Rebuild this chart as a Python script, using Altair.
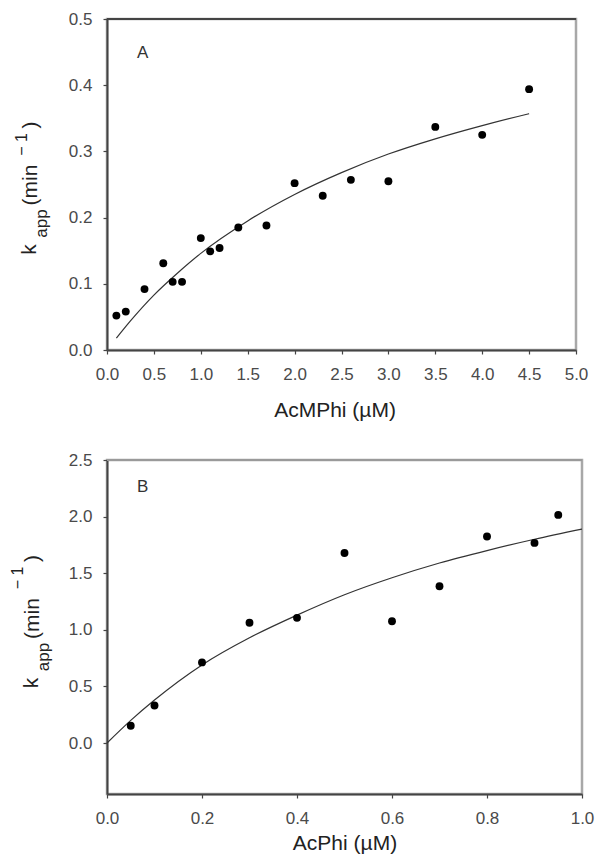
import altair as alt
import pandas as pd

# ---- Panel A data (AcMPhi) ----
a_x = [0.1, 0.2, 0.4, 0.6, 0.7, 0.8, 1.0, 1.1, 1.2, 1.4, 1.7, 2.0, 2.3, 2.6, 3.0, 3.5, 4.0, 4.5]
a_y = [0.052, 0.058, 0.092, 0.131, 0.103, 0.103, 0.169, 0.149, 0.154, 0.185, 0.188,
       0.252, 0.233, 0.257, 0.255, 0.337, 0.325, 0.394]
a_fit_x = [0.1, 0.25, 0.5, 0.75, 1.0, 1.5, 2.0, 2.5, 3.0, 3.5, 4.0, 4.5]
a_fit_y = [0.018, 0.044, 0.083, 0.116, 0.146, 0.195, 0.235, 0.268, 0.296, 0.319, 0.339, 0.357]

# ---- Panel B data (AcPhi) ----
b_x = [0.05, 0.1, 0.2, 0.3, 0.4, 0.5, 0.6, 0.7, 0.8, 0.9, 0.95]
b_y = [0.153, 0.332, 0.712, 1.062, 1.106, 1.679, 1.076, 1.385, 1.824, 1.768, 2.015]
b_fit_x = [0.0, 0.05, 0.1, 0.2, 0.3, 0.4, 0.5, 0.6, 0.7, 0.8, 0.9, 1.0]
b_fit_y = [0.0, 0.20, 0.38, 0.69, 0.93, 1.13, 1.31, 1.46, 1.59, 1.70, 1.80, 1.89]

a_xticks = [0.0, 0.5, 1.0, 1.5, 2.0, 2.5, 3.0, 3.5, 4.0, 4.5, 5.0]
a_yticks = [0.0, 0.1, 0.2, 0.3, 0.4, 0.5]
b_xticks = [0.0, 0.2, 0.4, 0.6, 0.8, 1.0]
b_yticks = [0.0, 0.5, 1.0, 1.5, 2.0, 2.5]

FONT = "Liberation Sans"
DARK = "#444444"


def one(text, x, y, size, angle=0, align="center", baseline="alphabetic", color="#222222"):
    props = dict(text=text, font=FONT, fontSize=size, align=align,
                 baseline=baseline, color=color)
    if angle:
        props["angle"] = angle
    return alt.Chart(alt.Data(values=[{}])).mark_text(**props).encode(
        x=alt.value(x), y=alt.value(y))


def panel(px, py, fx, fy, xdom, xticks, ydom, yticks, xtitle, letter,
          w, h, tpad, title_shift, kpos, supx, top_color):
    pts = pd.DataFrame({"x": px, "y": py})
    fit = pd.DataFrame({"x": fx, "y": fy})
    xenc = alt.X("x:Q", scale=alt.Scale(domain=xdom, nice=False, zero=False),
                 axis=alt.Axis(values=xticks, format=".1f", title=xtitle,
                               titlePadding=tpad, labelPadding=12, labelFlush=False,
                               titleX=w / 2 + title_shift))
    yenc = alt.Y("y:Q", scale=alt.Scale(domain=ydom, nice=False, zero=False),
                 axis=alt.Axis(values=yticks, format=".1f", title=None,
                               labelPadding=11, labelFlush=False))
    line = alt.Chart(fit).mark_line(color="#333333", strokeWidth=1.2,
                                    interpolate="monotone").encode(x=xenc, y=yenc)
    dots = alt.Chart(pts).mark_circle(color="black", opacity=1, size=62).encode(
        x=xenc, y=yenc)
    top = alt.Chart(alt.Data(values=[{}])).mark_rule(
        color=top_color, strokeWidth=2).encode(
        x=alt.value(0), x2=alt.value(w), y=alt.value(0))
    lab = one(letter, 30, kpos[2], 17, align="left", baseline="middle", color="#333333")
    k0 = kpos[0]
    kx = kpos[1]
    texts = [
        one("k", kx, k0, 21, angle=270),
        one("app", kx + 11, k0 - 26, 17, angle=270),
        one("(min", kx + 1, k0 - 64.5, 21, angle=270),
        one("\u2212 1", supx, k0 - 105, 16, angle=270),
        one(")", kx + 1, k0 - 124.5, 21, angle=270),
    ]
    return alt.layer(line, dots, top, lab, *texts).properties(width=w, height=h)


A = panel(a_x, a_y, a_fit_x, a_fit_y, [0, 5], a_xticks, [0, 0.5], a_yticks,
          "AcMPhi (\u00b5M)", "A", 469, 331, 17, -7, (230.5, -71, 33.5), -80, DARK)
B = panel(b_x, b_y, b_fit_x, b_fit_y, [0, 1], b_xticks, [-0.45, 2.5], b_yticks,
          "AcPhi (\u00b5M)", "B", 475, 334, 6, 0, (223, -69, 26.5), -84, "#9a9a9a")

chart = alt.vconcat(A, B, spacing=27).configure(
    padding={"left": 0, "top": 0, "right": 0, "bottom": 0}
).configure_view(
    stroke="#a8a8a8", strokeWidth=2.5
).configure_axis(
    labelFont=FONT, labelFontSize=17, labelColor="#4a4a4a",
    titleFont=FONT, titleFontSize=21, titleColor="#222222", titleFontWeight="normal",
    tickColor=DARK, tickSize=4, tickWidth=1.2, domainColor=DARK, domainWidth=2,
    grid=False
)

chart.save("out.html", embed_options={"renderer": "svg", "actions": False})
